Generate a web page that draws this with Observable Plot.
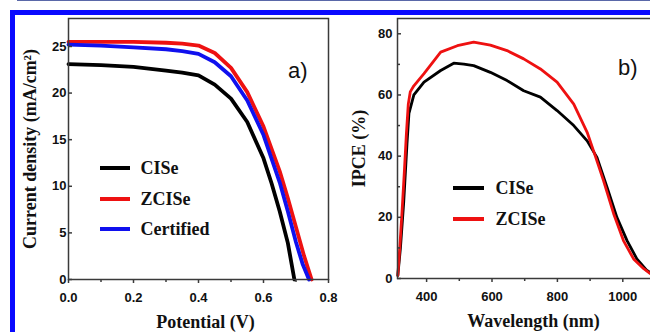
<!DOCTYPE html>
<html>
<head>
<meta charset="utf-8">
<script src="https://cdn.jsdelivr.net/npm/d3@7"></script>
<script src="https://cdn.jsdelivr.net/npm/@observablehq/plot@0.6"></script>
<style>
  html, body { margin: 0; padding: 0; background: #fff; overflow: hidden; }
  #fig { position: relative; width: 650px; height: 332px; overflow: hidden; background: #fff; }
  .panel { position: absolute; top: 0; }
  .bar { position: absolute; }
</style>
</head>
<body>
<div id="fig"></div>
<script>
// ---------- Data: panel a) J–V curves ----------
const seriesA = ["CISe", "ZCISe", "Certified"];
const colorsA = ["#000000", "#ee1111", "#1010ee"];
const ciseV = [0, 0.1, 0.2, 0.3, 0.35, 0.4, 0.45, 0.5, 0.55, 0.6, 0.625, 0.65, 0.675, 0.695];
const ciseJ = [23.1, 23.0, 22.8, 22.4, 22.2, 21.9, 20.9, 19.4, 16.9, 13.0, 10.3, 7.3, 3.9, 0];
const zciseV = [0, 0.1, 0.2, 0.3, 0.35, 0.4, 0.45, 0.5, 0.55, 0.6, 0.65, 0.675, 0.7, 0.725, 0.748];
const zciseJ = [25.5, 25.5, 25.5, 25.4, 25.3, 25.1, 24.3, 22.7, 20.1, 16.4, 11.6, 8.7, 5.6, 2.5, 0];
const certV = [0, 0.1, 0.2, 0.3, 0.35, 0.4, 0.45, 0.5, 0.55, 0.6, 0.65, 0.675, 0.7, 0.72, 0.74];
const certJ = [25.2, 25.1, 24.9, 24.7, 24.5, 24.2, 23.3, 21.8, 19.2, 15.5, 10.4, 7.3, 4.0, 1.7, 0];
const xTicksA = [0, 0.2, 0.4, 0.6, 0.8];
const xMinorA = [0.1, 0.3, 0.5, 0.7];
const yTicksA = [0, 5, 10, 15, 20, 25];

// ---------- Data: panel b) IPCE ----------
const seriesB = ["CISe", "ZCISe"];
const colorsB = ["#000000", "#ee1111"];
const ciseWl = [312, 320, 330, 340, 346, 361, 392, 443, 483, 514, 544, 595, 646, 697, 748, 799, 850, 891, 921, 952, 982, 1013, 1043, 1074, 1100];
const ciseIpce = [1, 10, 25, 44, 54, 60, 64.2, 68, 70.4, 70.1, 69.6, 67.4, 64.7, 61.4, 59.3, 54.9, 50, 45, 39.6, 29.8, 20, 12.4, 6.4, 2.6, 0.8];
const zciseWl = [312, 318, 325, 332, 338, 344, 350, 361, 392, 443, 494, 544, 595, 646, 697, 748, 799, 850, 891, 916, 941, 972, 1002, 1033, 1064, 1084, 1100];
const zciseIpce = [1, 10, 22, 35, 47, 57, 61, 63, 67, 74, 76.1, 77.3, 76.3, 74.5, 71.8, 68.5, 64.2, 57, 47.8, 40, 32, 21.2, 12.4, 6.4, 3.2, 1.6, 0.8];
const xTicksB = [400, 600, 800, 1000];
const xMinorB = [500, 700, 900];
const yTicksB = [0, 20, 40, 60, 80];
const yMinorB = [10, 30, 50, 70];

// ---------- Tables ----------
const dataA = [
  ...ciseV.map((v, i) => ({series: "CISe", V: v, J: ciseJ[i]})),
  ...zciseV.map((v, i) => ({series: "ZCISe", V: v, J: zciseJ[i]})),
  ...certV.map((v, i) => ({series: "Certified", V: v, J: certJ[i]}))
];
const dataB = [
  ...ciseWl.map((w, i) => ({series: "CISe", W: w, P: ciseIpce[i]})),
  ...zciseWl.map((w, i) => ({series: "ZCISe", W: w, P: zciseIpce[i]}))
];

const sans = "Liberation Sans, Arial, sans-serif";
const serif = "Liberation Serif, Times New Roman, serif";
const tickText = {fontSize: 13, fontWeight: "bold", fontFamily: sans, fill: "#111", stroke: "none", label: null};
const titleText = {fontSize: 18, fontWeight: "bold", fontFamily: serif, fill: "#111"};
const frameColor = "#3a3a3a";
const tickLine = {stroke: frameColor, strokeWidth: 1.5, fill: "none", label: null};

// legend text entries inside the plot frame (offsets from the frame's top-left)
function legendText(names, dxText, dys) {
  return names.map((n, i) => Plot.text([n], {frameAnchor: "top-left", textAnchor: "start", lineAnchor: "middle", dx: dxText, dy: dys[i], ...titleText}));
}

const chartA = Plot.plot({
  width: 340, height: 332,
  marginLeft: 68, marginTop: 18, marginRight: 12, marginBottom: 53,
  style: {background: "transparent", overflow: "visible", maxWidth: "none"},
  x: {domain: [0, 0.8]},
  y: {domain: [0, 28]},
  color: {domain: seriesA, range: colorsA},
  marks: [
    Plot.line(dataA, {x: "V", y: "J", z: "series", stroke: "series", strokeWidth: 3.8}),
    Plot.frame({stroke: frameColor, strokeWidth: 1.5}),
    Plot.axisX({ticks: xTicksA, tickSize: 4, ...tickLine}),
    Plot.axisX({ticks: xMinorA, tickSize: 3, ...tickLine}),
    Plot.axisX({ticks: xTicksA, tickSize: 4, tickPadding: 9, tickFormat: d3.format(".1f"), ...tickText}),
    Plot.axisY({ticks: yTicksA, tickSize: 4, dx: 4, ...tickLine}),
    Plot.axisY({ticks: yTicksA, tickSize: 0, tickPadding: 2, ...tickText}),
    Plot.text(["Potential (V)"], {frameAnchor: "bottom", lineAnchor: "middle", dx: 7, dy: 43, ...titleText}),
    Plot.text(["Current density (mA/cm²)"], {frameAnchor: "left", lineAnchor: "middle", textAnchor: "middle", rotate: -90, dx: -38, ...titleText}),
    Plot.text(["a)"], {frameAnchor: "top-right", textAnchor: "end", lineAnchor: "middle", dx: -21, dy: 52, fontSize: 22, fontFamily: sans, fill: "#111"}),
    ...legendText(seriesA, 72, [150, 181, 211])
  ]
});

const chartB = Plot.plot({
  width: 340, height: 332,
  marginLeft: 67, marginTop: 18, marginRight: 15, marginBottom: 54,
  style: {background: "transparent", overflow: "visible", maxWidth: "none"},
  x: {domain: [311, 1100]},
  y: {domain: [0, 85]},
  color: {domain: seriesB, range: colorsB},
  marks: [
    Plot.line(dataB, {x: "W", y: "P", z: "series", stroke: "series", strokeWidth: 2.8}),
    Plot.frame({stroke: frameColor, strokeWidth: 1.5}),
    Plot.axisX({ticks: xTicksB, tickSize: 4, ...tickLine}),
    Plot.axisX({ticks: xMinorB, tickSize: 3, ...tickLine}),
    Plot.axisX({ticks: xTicksB, tickSize: 4, tickPadding: 9, tickFormat: d3.format("d"), ...tickText}),
    Plot.axisY({ticks: yTicksB, tickSize: 4, dx: 4, ...tickLine}),
    Plot.axisY({ticks: yMinorB, tickSize: 3, dx: 3, ...tickLine}),
    Plot.axisY({ticks: yTicksB, tickSize: 0, tickPadding: 5, ...tickText}),
    Plot.text(["Wavelength (nm)"], {frameAnchor: "bottom", lineAnchor: "middle", dx: 7, dy: 43, ...titleText}),
    Plot.text(["IPCE (%)"], {frameAnchor: "left", lineAnchor: "middle", textAnchor: "middle", rotate: -90, dx: -38, ...titleText}),
    Plot.text(["b)"], {frameAnchor: "top-right", textAnchor: "end", lineAnchor: "middle", dx: -18, dy: 49, fontSize: 22, fontFamily: sans, fill: "#111"}),
    ...legendText(seriesB, 98, [170, 201])
  ]
});

const fig = document.getElementById("fig");
chartA.classList.add("panel"); chartA.style.left = "0px";
chartB.classList.add("panel"); chartB.style.left = "330px";
fig.appendChild(chartA);
fig.appendChild(chartB);

// Decorative page frame (blue bars + thin top rule) and legend swatches
function bar(l, t, w, h, c) {
  const d = document.createElement("div");
  d.className = "bar";
  Object.assign(d.style, {left: l + "px", top: t + "px", width: w + "px", height: h + "px", background: c});
  fig.appendChild(d);
}
bar(17, 0, 633, 1, "#5a68a8");
bar(10, 10, 640, 5, "#0a0aff");
bar(10, 10, 5, 322, "#0a0aff");
[168, 199, 229].forEach((y, i) => bar(100, y - 2, 30, 4, colorsA[i]));
[188, 219].forEach((y, i) => bar(453, y - 2, 31, 4, colorsB[i]));
</script>
</body>
</html>
